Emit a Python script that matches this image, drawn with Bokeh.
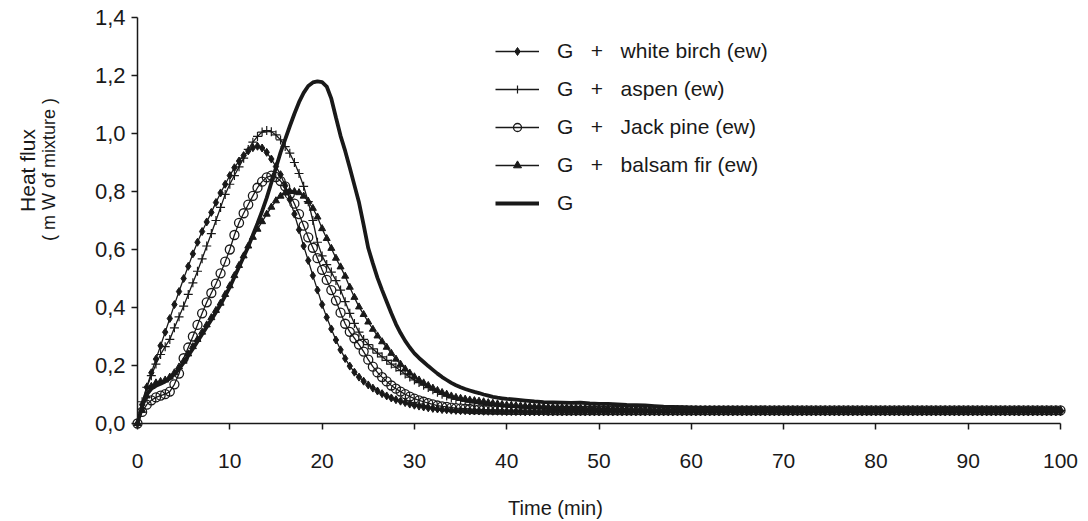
import math
from bokeh.plotting import figure
from bokeh.models import (Range1d, FixedTicker, CustomJSTickFormatter, Legend,
                          LegendItem, Label, LinearAxis)
from bokeh.embed import file_html
from bokeh.resources import INLINE

# ---------------- data ----------------
# sampling grid of the marker series: every 0.5 min from 0 to 100
time = [i * 0.5 for i in range(201)]

birch = [
    0.000, 0.065, 0.125, 0.175, 0.222, 0.268, 0.315, 0.362, 0.410, 0.455,
    0.500, 0.542, 0.585, 0.625, 0.662, 0.695, 0.728, 0.762, 0.795, 0.825,
    0.855, 0.882, 0.905, 0.924, 0.940, 0.951, 0.956, 0.950, 0.935, 0.912,
    0.886, 0.858, 0.820, 0.772, 0.722, 0.668, 0.612, 0.562, 0.510, 0.460,
    0.410, 0.366, 0.326, 0.288, 0.254, 0.224, 0.198, 0.177, 0.160, 0.146,
    0.133, 0.122, 0.112, 0.103, 0.095, 0.088, 0.082, 0.077, 0.072, 0.067,
    0.063, 0.060, 0.057, 0.054, 0.052, 0.050, 0.048, 0.047, 0.046, 0.045,
    0.044, 0.044, 0.043, 0.043, 0.043, 0.042, 0.042, 0.042, 0.042, 0.041,
    0.041,
    0.041, 0.041, 0.041, 0.040, 0.040, 0.040, 0.040, 0.040, 0.040, 0.040,
    0.040, 0.040, 0.040, 0.040, 0.040, 0.040, 0.040, 0.040, 0.040, 0.040,
    0.040, 0.040, 0.040, 0.040, 0.040, 0.040, 0.040, 0.040, 0.040, 0.040,
    0.040, 0.040, 0.040, 0.040, 0.040, 0.040, 0.040, 0.040, 0.040, 0.040,
    0.040, 0.040, 0.040, 0.040, 0.040, 0.040, 0.040, 0.040, 0.040, 0.040,
    0.040, 0.040, 0.040, 0.040, 0.040, 0.040, 0.040, 0.040, 0.040, 0.040,
    0.040, 0.040, 0.040, 0.040, 0.040, 0.040, 0.040, 0.040, 0.040, 0.040,
    0.040, 0.040, 0.040, 0.040, 0.040, 0.040, 0.040, 0.040, 0.040, 0.040,
    0.040, 0.040, 0.040, 0.040, 0.040, 0.040, 0.040, 0.040, 0.040, 0.040,
    0.040, 0.040, 0.040, 0.040, 0.040, 0.040, 0.040, 0.040, 0.040, 0.040,
    0.040, 0.040, 0.040, 0.040, 0.040, 0.040, 0.040, 0.040, 0.040, 0.040,
    0.040, 0.040, 0.040, 0.040, 0.040, 0.040, 0.040, 0.040, 0.040, 0.040,
]

aspen = [
    0.000, 0.075, 0.125, 0.165, 0.205, 0.238, 0.265, 0.290, 0.330, 0.368,
    0.405, 0.445, 0.485, 0.525, 0.568, 0.612, 0.655, 0.700, 0.745, 0.790,
    0.825, 0.855, 0.885, 0.915, 0.945, 0.970, 0.990, 1.005, 1.010, 1.006,
    0.995, 0.978, 0.955, 0.932, 0.900, 0.862, 0.818, 0.765, 0.700, 0.625,
    0.578, 0.548, 0.522, 0.493, 0.460, 0.420, 0.380, 0.345, 0.315, 0.290,
    0.272, 0.257, 0.243, 0.230, 0.218, 0.205, 0.194, 0.182, 0.171, 0.160,
    0.150, 0.141, 0.132, 0.124, 0.116, 0.108, 0.101, 0.095, 0.089, 0.084,
    0.080, 0.077, 0.074, 0.071, 0.069, 0.067, 0.065, 0.063, 0.061, 0.060,
    0.058,
    0.057, 0.056, 0.055, 0.054, 0.054, 0.053, 0.052, 0.052, 0.051, 0.051,
    0.050, 0.050, 0.049, 0.049, 0.049, 0.048, 0.048, 0.048, 0.047, 0.047,
    0.047, 0.047, 0.046, 0.046, 0.046, 0.046, 0.046, 0.046, 0.045, 0.045,
    0.045, 0.045, 0.045, 0.045, 0.045, 0.045, 0.045, 0.045, 0.045, 0.045,
    0.045, 0.045, 0.045, 0.045, 0.045, 0.045, 0.045, 0.045, 0.045, 0.045,
    0.045, 0.045, 0.045, 0.045, 0.045, 0.045, 0.045, 0.045, 0.045, 0.045,
    0.045, 0.045, 0.045, 0.045, 0.045, 0.045, 0.045, 0.045, 0.045, 0.045,
    0.045, 0.045, 0.045, 0.045, 0.045, 0.045, 0.045, 0.045, 0.045, 0.045,
    0.045, 0.045, 0.045, 0.045, 0.045, 0.045, 0.045, 0.045, 0.045, 0.045,
    0.045, 0.045, 0.045, 0.045, 0.045, 0.045, 0.045, 0.045, 0.045, 0.045,
    0.045, 0.045, 0.045, 0.045, 0.045, 0.045, 0.045, 0.045, 0.045, 0.045,
    0.045, 0.045, 0.045, 0.045, 0.045, 0.045, 0.045, 0.045, 0.045, 0.045,
]

jack_pine = [
    0.000, 0.040, 0.065, 0.080, 0.090, 0.096, 0.101, 0.110, 0.135, 0.172,
    0.225, 0.262, 0.300, 0.340, 0.380, 0.418, 0.450, 0.482, 0.518, 0.558,
    0.600, 0.650, 0.692, 0.725, 0.755, 0.785, 0.813, 0.834, 0.849, 0.855,
    0.850, 0.836, 0.818, 0.790, 0.758, 0.722, 0.682, 0.642, 0.606, 0.570,
    0.530, 0.495, 0.460, 0.424, 0.382, 0.344, 0.316, 0.294, 0.272, 0.248,
    0.220, 0.196, 0.176, 0.160, 0.145, 0.131, 0.120, 0.110, 0.101, 0.093,
    0.086, 0.080, 0.075, 0.070, 0.066, 0.062, 0.059, 0.057, 0.055, 0.053,
    0.052, 0.051, 0.050, 0.049, 0.049, 0.048, 0.048, 0.047, 0.047, 0.047,
    0.046,
    0.046, 0.046, 0.046, 0.046, 0.046, 0.046, 0.046, 0.046, 0.045, 0.045,
    0.045, 0.045, 0.045, 0.045, 0.045, 0.045, 0.045, 0.045, 0.045, 0.045,
    0.045, 0.045, 0.045, 0.045, 0.045, 0.045, 0.045, 0.045, 0.045, 0.045,
    0.045, 0.045, 0.045, 0.045, 0.045, 0.045, 0.045, 0.045, 0.045, 0.045,
    0.045, 0.045, 0.045, 0.045, 0.045, 0.045, 0.045, 0.045, 0.045, 0.045,
    0.045, 0.045, 0.045, 0.045, 0.045, 0.045, 0.045, 0.045, 0.045, 0.045,
    0.045, 0.045, 0.045, 0.045, 0.045, 0.045, 0.045, 0.045, 0.045, 0.045,
    0.045, 0.045, 0.045, 0.045, 0.045, 0.045, 0.045, 0.045, 0.045, 0.045,
    0.045, 0.045, 0.045, 0.045, 0.045, 0.045, 0.045, 0.045, 0.045, 0.045,
    0.045, 0.045, 0.045, 0.045, 0.045, 0.045, 0.045, 0.045, 0.045, 0.045,
    0.045, 0.045, 0.045, 0.045, 0.045, 0.045, 0.045, 0.045, 0.045, 0.045,
    0.045, 0.045, 0.045, 0.045, 0.045, 0.045, 0.045, 0.045, 0.045, 0.045,
]

balsam_fir = [
    0.000, 0.045, 0.095, 0.128, 0.140, 0.145, 0.150, 0.160, 0.175, 0.195,
    0.215, 0.240, 0.265, 0.290, 0.315, 0.340, 0.365, 0.390, 0.415, 0.445,
    0.475, 0.510, 0.545, 0.578, 0.612, 0.642, 0.670, 0.696, 0.722, 0.746,
    0.768, 0.784, 0.795, 0.800, 0.800, 0.796, 0.784, 0.766, 0.742, 0.712,
    0.672, 0.638, 0.604, 0.570, 0.540, 0.508, 0.470, 0.435, 0.402, 0.376,
    0.350, 0.325, 0.302, 0.282, 0.263, 0.242, 0.222, 0.204, 0.188, 0.174,
    0.161, 0.150, 0.140, 0.131, 0.122, 0.114, 0.107, 0.101, 0.095, 0.090,
    0.087, 0.084, 0.081, 0.079, 0.077, 0.075, 0.072, 0.070, 0.068, 0.066,
    0.064,
    0.063, 0.062, 0.061, 0.060, 0.059, 0.058, 0.058, 0.057, 0.056, 0.056,
    0.055, 0.055, 0.054, 0.054, 0.053, 0.053, 0.052, 0.052, 0.052, 0.051,
    0.051, 0.051, 0.050, 0.050, 0.050, 0.050, 0.049, 0.049, 0.049, 0.049,
    0.048, 0.048, 0.048, 0.048, 0.048, 0.048, 0.048, 0.047, 0.047, 0.047,
    0.047, 0.047, 0.047, 0.047, 0.047, 0.047, 0.047, 0.047, 0.047, 0.047,
    0.047, 0.047, 0.047, 0.047, 0.047, 0.047, 0.047, 0.047, 0.047, 0.047,
    0.047, 0.047, 0.047, 0.047, 0.047, 0.047, 0.047, 0.047, 0.047, 0.047,
    0.047, 0.047, 0.047, 0.047, 0.047, 0.047, 0.047, 0.047, 0.047, 0.047,
    0.047, 0.047, 0.047, 0.047, 0.047, 0.047, 0.047, 0.047, 0.047, 0.047,
    0.047, 0.047, 0.047, 0.047, 0.047, 0.047, 0.047, 0.047, 0.047, 0.047,
    0.047, 0.047, 0.047, 0.047, 0.047, 0.047, 0.047, 0.047, 0.047, 0.047,
    0.047, 0.047, 0.047, 0.047, 0.047, 0.047, 0.047, 0.047, 0.047, 0.047,
]

# G alone (line without markers): every 0.5 min to 40, then every minute
g_time = [i * 0.5 for i in range(81)] + [float(m) for m in range(41, 101)]
g_only = [
    0.000, 0.060, 0.100, 0.120, 0.130, 0.137, 0.145, 0.155, 0.170, 0.188,
    0.210, 0.234, 0.258, 0.283, 0.308, 0.333, 0.358, 0.384, 0.410, 0.440,
    0.470, 0.505, 0.540, 0.575, 0.610, 0.650, 0.690, 0.732, 0.778, 0.830,
    0.882, 0.935, 0.980, 1.025, 1.068, 1.108, 1.140, 1.164, 1.176, 1.180,
    1.177, 1.162, 1.120, 1.055, 0.992, 0.940, 0.882, 0.822, 0.762, 0.685,
    0.605, 0.552, 0.502, 0.460, 0.420, 0.380, 0.343, 0.312, 0.285, 0.262,
    0.242, 0.226, 0.212, 0.198, 0.185, 0.172, 0.160, 0.150, 0.140, 0.132,
    0.125, 0.119, 0.114, 0.109, 0.105, 0.100, 0.096, 0.092, 0.089, 0.087,
    0.085,
    0.082, 0.079, 0.076, 0.074, 0.073, 0.072, 0.071, 0.072, 0.069, 0.068,
    0.068, 0.066, 0.064, 0.063, 0.062, 0.060, 0.058, 0.057, 0.056, 0.055,
    0.054, 0.054, 0.053, 0.053, 0.052, 0.052, 0.052, 0.051, 0.051, 0.051,
    0.051, 0.050, 0.050, 0.050, 0.050, 0.050, 0.050, 0.050, 0.050, 0.050,
    0.050, 0.050, 0.050, 0.050, 0.050, 0.050, 0.050, 0.050, 0.050, 0.050,
    0.050, 0.050, 0.050, 0.050, 0.050, 0.050, 0.050, 0.050, 0.050, 0.050,
]

labels = [
    "G\u00a0\u00a0\u00a0+\u00a0\u00a0\u00a0white birch (ew)",
    "G\u00a0\u00a0\u00a0+\u00a0\u00a0\u00a0aspen (ew)",
    "G\u00a0\u00a0\u00a0+\u00a0\u00a0\u00a0Jack pine (ew)",
    "G\u00a0\u00a0\u00a0+\u00a0\u00a0\u00a0balsam fir (ew)",
    "G",
]
x_ticks = [0, 10, 20, 30, 40, 50, 60, 70, 80, 90, 100]
y_ticks = [0.0, 0.2, 0.4, 0.6, 0.8, 1.0, 1.2, 1.4]
x_title = "Time (min)"
y_title = ["Heat flux", "( m W of mixture )"]

# ---------------- layout constants (pixels) ----------------
W, H = 1088, 521
X0_PX, X100_PX = 137, 1060      # where x = 0 and x = 100 fall
Y0_PX, Y14_PX = 423, 17         # where y = 0 and y = 1.4 fall
kx = (X100_PX - X0_PX) / 100.0
ky = (Y0_PX - Y14_PX) / 1.4

INK = "#191919"
FONT = "Liberation Sans"

p = figure(width=W, height=H, output_backend="svg", toolbar_location=None,
           x_range=Range1d(-X0_PX / kx, (W - X0_PX) / kx),
           y_range=Range1d(-(H - Y0_PX) / ky, Y0_PX / ky),
           x_axis_location=None, y_axis_location=None,
           min_border=0)
p.outline_line_color = None
p.grid.visible = False
p.background_fill_color = "white"

xaxis = LinearAxis(fixed_location=0, bounds=(0, 100), ticker=FixedTicker(ticks=x_ticks))
yaxis = LinearAxis(fixed_location=0, bounds=(0, 1.4), ticker=FixedTicker(ticks=y_ticks))
p.add_layout(xaxis, "below")
p.add_layout(yaxis, "left")

for ax in (xaxis, yaxis):
    ax.axis_line_color = INK
    ax.axis_line_width = 1.5
    ax.major_tick_line_color = INK
    ax.major_tick_line_width = 1.5
    ax.major_tick_out = 6
    ax.major_tick_in = 0
    ax.minor_tick_line_color = None
    ax.major_label_text_font = FONT
    ax.major_label_text_font_size = "21px"
    ax.major_label_text_color = INK

yaxis.major_label_text_font_size = "22px"
xaxis.major_label_standoff = 24
yaxis.major_label_standoff = 6
yaxis.formatter = CustomJSTickFormatter(code="return tick.toFixed(1).replace('.', ',');")

series = [birch, aspen, jack_pine, balsam_fir]
markers = [
    dict(marker="diamond", size=8, fill_color=INK, line_color=INK, line_width=1),
    dict(marker="cross", size=9, fill_color=None, line_color=INK, line_width=1.2),
    dict(marker="circle", size=9, fill_color=None, line_color=INK, line_width=1.3),
    dict(marker="triangle", size=7, fill_color=INK, line_color=INK, line_width=1),
]

items = []
for vals, mk, lab in zip(series, markers, labels[:4]):
    lr = p.line(time, vals, line_color=INK, line_width=1.3)
    sr = p.scatter(time, vals, **mk)
    items.append(LegendItem(label=lab, renderers=[lr, sr]))

gr = p.line(g_time, g_only, line_color=INK, line_width=3.8)
items.append(LegendItem(label=labels[4], renderers=[gr]))

legend = Legend(items=items, location=(495, H - 215),
                label_text_font=FONT, label_text_font_size="21px",
                label_text_color=INK, glyph_width=44, glyph_height=20,
                label_standoff=18, spacing=14, padding=0, margin=0,
                border_line_color=None, background_fill_alpha=0)
p.add_layout(legend)

def px_to_x(px):
    return (px - X0_PX) / kx

def px_to_y(py):
    return (Y0_PX - py) / ky

p.add_layout(Label(x=px_to_x(27), y=px_to_y(170), text=y_title[0], angle=math.pi / 2,
                   text_align="center", text_baseline="middle",
                   text_font=FONT, text_font_size="21px", text_color=INK))
p.add_layout(Label(x=px_to_x(48), y=px_to_y(169), text=y_title[1], angle=math.pi / 2,
                   text_align="center", text_baseline="middle",
                   text_font=FONT, text_font_size="18px", text_color=INK))
p.add_layout(Label(x=px_to_x(555), y=px_to_y(507), text=x_title,
                   text_align="center", text_baseline="middle",
                   text_font=FONT, text_font_size="20px", text_color=INK))

open("out.html", "w").write(file_html(p, INLINE))
